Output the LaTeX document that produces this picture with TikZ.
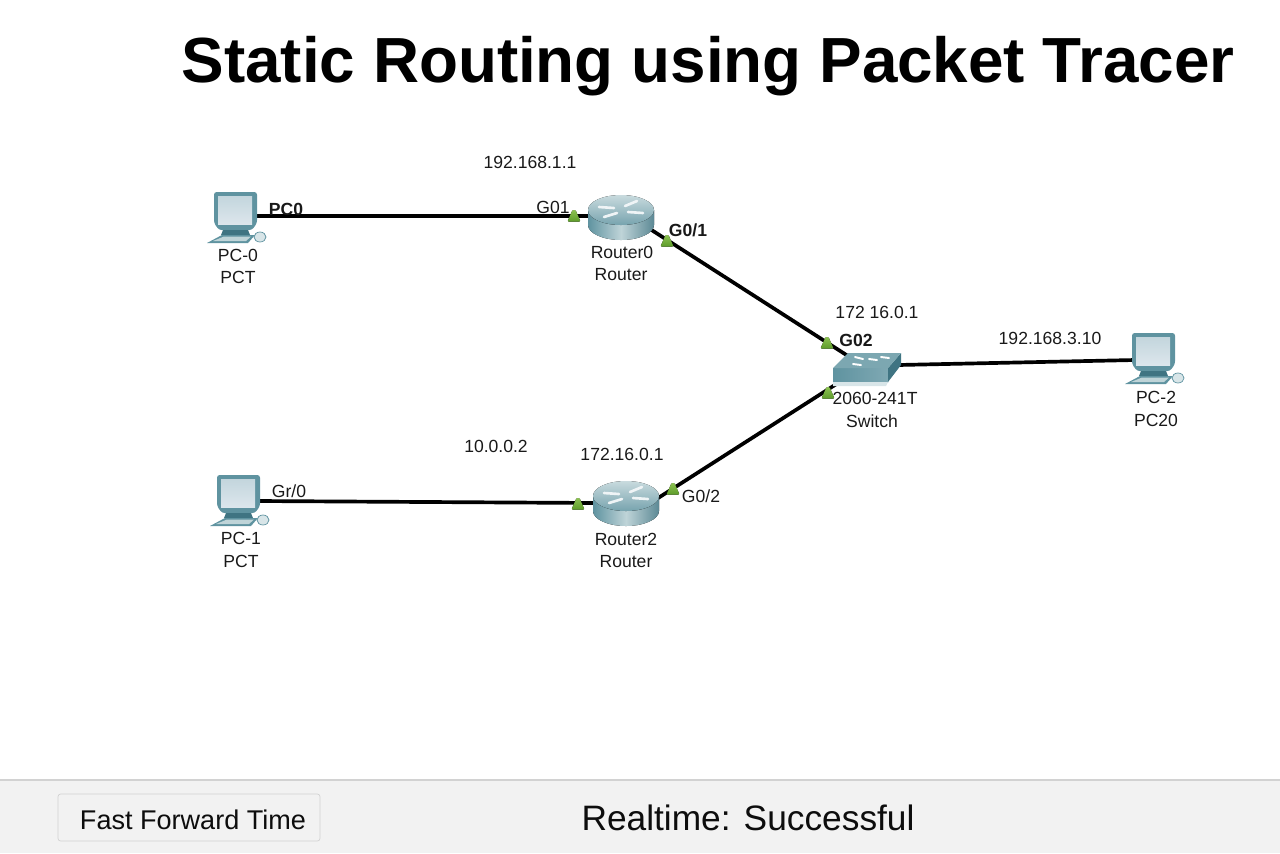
\documentclass[tikz,border=0pt]{standalone}
\usepackage{fontspec}
\setmainfont{Liberation Sans}
\usepackage{xcolor}
\definecolor{ptTeal}{HTML}{5F93A0}
\definecolor{ptDark}{HTML}{3F7482}
\definecolor{ptPale}{HTML}{BFD4D8}
\definecolor{ptScreen}{HTML}{DCE6EC}
\definecolor{ptGreen}{HTML}{8CC152}
\definecolor{ptGreenDark}{HTML}{5E9C2A}
\definecolor{ptPanel}{HTML}{F2F2F2}
\definecolor{ptEdge}{HTML}{D2D2D2}
\usepackage{tikz}
\tikzset{
  wire/.style={black, line width=2.1pt, line cap=round},
  devlabel/.style={font=\fontsize{10}{12}\selectfont, inner sep=0pt, text=black!90},
  portlabel/.style={devlabel, font=\fontsize{10}{12}\selectfont\bfseries},
  pcicon/.pic={
    % monitor
    \fill[ptTeal, rounded corners=1.5pt] (-22,-26) -- (21,-26) -- (21,5) -- (16,12) -- (-17,12) -- (-22,5) -- cycle;
    \fill[top color=ptScreen!80!ptTeal, bottom color=ptScreen] (-18,-22) -- (16,-22) -- (16,6) -- (-18,6) -- cycle;
    % base and keyboard
    \fill[ptDark] (-13,12) -- (12,12) -- (14,17) -- (-15,17) -- cycle;
    \fill[ptTeal] (-14,17) -- (19,17) -- (12,25) -- (-29,25) -- cycle;
    \fill[ptPale] (-12,18.5) -- (15,18.5) -- (10,23) -- (-23,23) -- cycle;
    % mouse
    \fill[ptPale!60!white, draw=ptTeal, line width=0.4pt] (24,19) ellipse [x radius=6, y radius=5];
  },
  routericon/.pic={
    % body
    \fill[left color=ptTeal, right color=ptDark!85!white, middle color=ptPale]
      (-33,-7) -- (-33,8) .. controls (-33,16.3) and (-18,23) .. (0,23) .. controls (18,23) and (33,16.3) .. (33,8) -- (33,-7) -- cycle;
    % top
    \fill[top color=ptPale!85!white, bottom color=ptTeal!85!white] (0,-7) ellipse [x radius=33, y radius=15];
    % arrows on top
    \draw[white!90!ptTeal, line width=1.5pt, line cap=round] (-22,-10) -- (-7,-9);
    \draw[white!90!ptTeal, line width=1.5pt, line cap=round] (7,-5) -- (22,-4);
    \draw[white!90!ptTeal, line width=1.5pt, line cap=round] (-17,0) -- (-4,-4);
    \draw[white!90!ptTeal, line width=1.5pt, line cap=round] (4,-11) -- (16,-16);
  },
  switchicon/.pic={
    % front, side and foot
    \fill[left color=ptTeal, right color=ptTeal!80!white] (-34,-4) -- (21,-4) -- (21,10) -- (-34,10) -- cycle;
    \fill[ptDark] (21,-4) -- (34,-19) -- (34,-7) -- (21,10) -- cycle;
    \fill[ptPale!60!white] (-34,10) -- (21,10) -- (19,14) -- (-34,14) -- cycle;
    % top
    \fill[ptTeal!70!ptPale] (-19,-19) -- (34,-19) -- (21,-4) -- (-34,-4) -- cycle;
    \draw[white, line width=1.1pt, line cap=round] (-12,-15) -- (-4,-13);
    \draw[white, line width=1.1pt, line cap=round] (2,-13) -- (10,-12);
    \draw[white, line width=1.1pt, line cap=round] (14,-15) -- (22,-14);
    \draw[white, line width=1.1pt, line cap=round] (-14,-8) -- (-6,-7);
  },
  linklight/.pic={
    \fill[top color=ptGreen, bottom color=ptGreenDark, rounded corners=0.6pt] (-6.5,5.5) -- (-1.5,-6) -- (1.5,-6) -- (6.5,5.5) -- cycle;
  },
}

\begin{document}
\begin{tikzpicture}[x=0.02cm, y=-0.02cm]
  \useasboundingbox (0,0) rectangle (1280,853);
  % ------- status bar -------
  \fill[ptPanel] (0,780) rectangle (1280,853);
  \draw[ptEdge, line width=0.7pt] (0,780) -- (1280,780);
  \node[draw=ptEdge, fill=ptPanel, rounded corners=1.5pt, minimum width=262*0.02cm, minimum height=47*0.02cm, inner sep=0pt] (ffbutton) at (189,817.5) {};
  \node[font=\fontsize{15.4}{18}\selectfont, inner sep=0pt, text=black!95] (fflabel) at (193,819.5) {Fast Forward Time};
  \node[font=\fontsize{20.1}{22}\selectfont, inner sep=0pt, text=black!95] (realtime) at (748,818) {Realtime: Successful};
  % ------- title -------
  \node[font=\fontsize{36.3}{40}\selectfont\bfseries, inner sep=0pt] (title) at (708,66.5) {Static Routing using Packet Tracer};
  % ------- connector ends -------
  \coordinate (pcA) at (255,216);
  \coordinate (routerAw) at (592,216);
  \coordinate (routerAe) at (650,229);
  \coordinate (switchnw) at (848,356);
  \coordinate (pcB) at (258,501);
  \coordinate (routerBw) at (598,503);
  \coordinate (routerBe) at (655,500);
  \coordinate (switchsw) at (838,383);
  \coordinate (switche) at (898,365);
  \coordinate (pcC) at (1135,360);
  % ------- links -------
  \draw[wire] (pcA) -- (routerAw);
  \draw[wire] (routerAe) -- (switchnw);
  \draw[wire] (pcB) -- (routerBw);
  \draw[wire] (routerBe) -- (switchsw);
  \draw[wire] (switche) -- (pcC);
  % ------- devices -------
  \pic at (236,218) {pcicon};
  \pic at (239,501) {pcicon};
  \pic at (1154,359) {pcicon};
  \pic at (621,217) {routericon};
  \pic at (626,503) {routericon};
  \pic at (867,372) {switchicon};
  % ------- link lights -------
  \pic at (574,216) {linklight};
  \pic at (667,241) {linklight};
  \pic at (827,343) {linklight};
  \pic at (828,393) {linklight};
  \pic at (578,504) {linklight};
  \pic at (673,489) {linklight};
  % ------- device names -------
  \node[devlabel] (pcAname) at (238,255) {PC-0};
  \node[devlabel] (pcAtype) at (238,277) {PCT};
  \node[devlabel] (pcBname) at (241,538) {PC-1};
  \node[devlabel] (pcBtype) at (241,561) {PCT};
  \node[devlabel] (pcCname) at (1156,397) {PC-2};
  \node[devlabel] (pcCtype) at (1156,420) {PC20};
  \node[devlabel] (routerAname) at (622,252) {Router0};
  \node[devlabel] (routerAtype) at (621,275) {Router};
  \node[devlabel] (routerBname) at (626,539) {Router2};
  \node[devlabel] (routerBtype) at (626,562) {Router};
  \node[devlabel] (switchname) at (875,398) {2060-241T};
  \node[devlabel] (switchtype) at (872,421) {Switch};
  % ------- port and address labels -------
  \node[devlabel] (addrA) at (530,162) {192.168.1.1};
  \node[devlabel] (portAw) at (553,207) {G01};
  \node[portlabel] (portAe) at (688,230) {G0/1};
  \node[portlabel] (portPcA) at (286,209) {PC0};
  \node[devlabel] (addrSw) at (877,312) {172 16.0.1};
  \node[portlabel] (portSw) at (856,340) {G02};
  \node[devlabel] (addrC) at (1050,338) {192.168.3.10};
  \node[devlabel] (addrB) at (496,446) {10.0.0.2};
  \node[devlabel] (addrRb) at (622,454) {172.16.0.1};
  \node[devlabel] (portPcB) at (289,491) {Gr/0};
  \node[devlabel] (portBe) at (701,496) {G0/2};
\end{tikzpicture}
\end{document}
